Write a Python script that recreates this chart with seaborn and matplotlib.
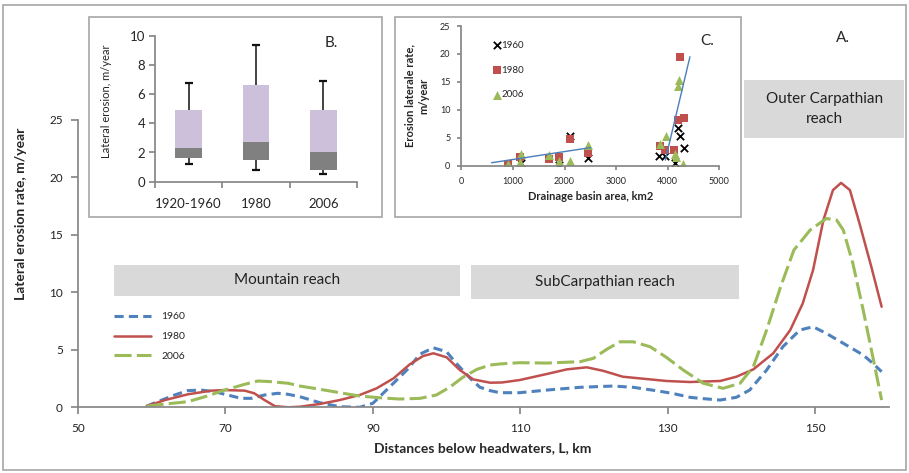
import matplotlib
matplotlib.use("Agg")
import matplotlib.pyplot as plt
from matplotlib.patches import Rectangle
import numpy as np
import seaborn as sns

# ---- main chart (A): lateral erosion rate along the river ----
km_1960 = [59.3, 63.1, 64.9, 66.7, 68.5, 70.3, 72.1, 73.5, 75.3, 77.1, 78.5, 80.1, 82.8, 85.5,
           88.2, 90.0, 92.3, 94.6, 96.4, 98.2, 100.0, 101.3, 103.2, 104.5, 105.9, 107.2, 109.9,
           113.6, 118.1, 122.6, 125.3, 128.5, 130.7, 133.0, 134.3, 137.1, 139.3, 141.1, 143.4,
           145.6, 147.9, 149.7, 151.5, 153.8, 156.5, 157.8, 159.0]
rate_1960 = [0.1, 1.07, 1.45, 1.5, 1.36, 1.07, 0.78, 0.78, 1.07, 1.22, 1.13, 0.92, 0.4, 0.05,
             0.0, 0.35, 1.79, 3.24, 4.63, 5.18, 4.83, 3.83, 2.52, 1.75, 1.45, 1.27, 1.27,
             1.5, 1.74, 1.85, 1.74, 1.44, 1.2, 0.87, 0.78, 0.63, 0.87, 1.5, 3.24,
             5.27, 6.72, 7.01, 6.43, 5.57, 4.55, 3.83, 3.1]

km_1980 = [59.3, 61.8, 64.9, 68.1, 69.9, 72.6, 73.9, 75.3, 76.7, 78.5, 80.1, 82.8, 85.5, 88.2,
           90.5, 92.8, 95.0, 96.8, 98.2, 100.0, 101.8, 103.6, 105.9, 107.5, 109.9, 113.6, 116.3,
           119.0, 121.2, 123.9, 127.1, 129.8, 133.0, 134.3, 137.1, 139.3, 141.6, 144.3, 146.6,
           148.3, 149.7, 151.1, 152.4, 153.5, 154.7, 156.0, 157.6, 159.0]
rate_1980 = [0.1, 0.63, 1.13, 1.45, 1.5, 1.45, 1.22, 0.63, 0.1, 0.0, 0.05, 0.29, 0.63, 1.07,
             1.65, 2.52, 3.74, 4.46, 4.70, 4.35, 3.24, 2.43, 2.14, 2.16, 2.37, 2.9, 3.3,
             3.48, 3.18, 2.66, 2.46, 2.29, 2.2, 2.23, 2.29, 2.66, 3.3, 4.7, 6.72,
             9.04, 11.94, 16.29, 18.9, 19.53, 18.9, 16.0, 12.23, 8.75]

km_2006 = [59.3, 61.8, 64.9, 67.2, 69.9, 72.6, 74.4, 76.2, 78.5, 80.1, 82.8, 85.5, 88.2, 90.9,
           93.6, 96.4, 98.6, 100.4, 102.2, 104.1, 105.9, 107.2, 109.9, 113.6, 118.1, 119.9,
           121.7, 123.5, 125.3, 127.6, 129.8, 132.1, 134.8, 137.5, 139.8, 141.6, 143.4, 145.3,
           147.1, 149.3, 151.5, 152.9, 153.8, 155.1, 156.5, 157.8, 159.0]
rate_2006 = [0.1, 0.28, 0.49, 0.92, 1.5, 2.0, 2.29, 2.23, 2.09, 1.85, 1.57, 1.27, 0.98, 0.83,
             0.72, 0.78, 1.07, 1.74, 2.61, 3.30, 3.68, 3.77, 3.88, 3.85, 3.97, 4.26,
             5.04, 5.70, 5.70, 5.27, 4.35, 3.24, 2.09, 1.65, 2.09, 3.53, 6.72, 10.49,
             13.68, 15.42, 16.43, 16.29, 15.42, 12.52, 8.46, 4.4, 0.63]

reach_names = ["Mountain reach", "SubCarpathian reach", "Outer Carpathian\nreach"]
reach_start = [54.9, 103.3, 140.4]
reach_end = [101.8, 139.7, 162.0]

# ---- inset B: box plots ----
periods = ["1920-1960", "1980", "2006"]
whisk_low = [1.23, 0.78, 0.53]
q1 = [1.62, 1.46, 0.78]
median = [2.31, 2.72, 2.05]
q3 = [4.91, 6.60, 4.91]
whisk_high = [6.78, 9.38, 6.90]

# ---- inset C: erosion vs drainage area ----
area_1960 = [1150, 1890, 2100, 2460, 3840, 3960, 4150, 4200, 4240, 4330]
erosion_1960 = [0.4, 0.1, 5.3, 1.4, 1.7, 1.7, 0.5, 6.8, 5.3, 3.1]
area_1980 = [910, 1130, 1690, 1890, 2100, 2460, 3850, 3960, 4130, 4200, 4240, 4330]
erosion_1980 = [0.3, 1.5, 1.2, 1.5, 4.7, 2.2, 3.5, 2.8, 2.8, 8.2, 19.5, 8.6]
area_2006 = [910, 1130, 1150, 1690, 1890, 2100, 2460, 3860, 3980, 4150, 4170, 4200, 4230, 4310]
erosion_2006 = [0.3, 0.6, 2.1, 1.9, 0.9, 0.9, 3.7, 3.8, 5.4, 2.1, 1.5, 14.2, 15.4, 0.3]
trend1_area = [584, 2506]
trend1_rate = [0.53, 3.24]
trend2_area = [3958, 4436]
trend2_rate = [1.0, 19.5]

BLUE, RED, GREEN = "#4F81BD", "#C0504D", "#9BBB59"
AXIS_GRAY = "#868686"

sns.set_theme(style="white")
plt.rcParams["font.family"] = ["Lato", "DejaVu Sans"]

W, H = 909, 473
fig = plt.figure(figsize=(W / 100, H / 100), dpi=100)


def px_box(x0, y0, x1, y1):
    # pixel box (top-left origin) -> figure fraction rect
    return [x0 / W, 1 - y1 / H, (x1 - x0) / W, (y1 - y0) / H]


# outer border
fig.add_artist(Rectangle((3 / W, 3 / H), 903 / W, 465 / H, transform=fig.transFigure,
                         fill=False, ec="#A6A6A6", lw=1.2))

# ---------------- main axes ----------------
ax = fig.add_axes(px_box(78, 120, 889, 407.3))
sns.lineplot(x=km_1960, y=rate_1960, ax=ax, color=BLUE, lw=2.2,
             linestyle=(0, (3.0, 1.7)), label="1960")
sns.lineplot(x=km_1980, y=rate_1980, ax=ax, color=RED, lw=1.8, label="1980")
sns.lineplot(x=km_2006, y=rate_2006, ax=ax, color=GREEN, lw=2.2,
             linestyle=(0, (5.6, 1.7)), label="2006")

ax.set_xlim(50, 160)
ax.set_ylim(0, 25)
ax.set_xticks(range(50, 151, 20))
ax.set_yticks(range(0, 26, 5))
sns.despine(ax=ax)
for s in ["left", "bottom"]:
    ax.spines[s].set_color(AXIS_GRAY)
ax.tick_params(bottom=True, left=True, direction="out", length=5, color=AXIS_GRAY,
               labelsize=8.5, pad=6, labelcolor="#222222")
ax.set_xlabel("Distances below headwaters, L, km", fontsize=10, fontweight="bold")
ax.set_ylabel("Lateral erosion rate, m/year", fontsize=10, fontweight="bold")
ax.xaxis.set_label_coords(0.499, -0.12)
ax.yaxis.set_label_coords(-0.063, 0.675)

ax.legend(loc="upper left", bbox_to_anchor=(0.044, 0.331), frameon=False, fontsize=7.5,
          handlelength=3.6, handletextpad=1.0, labelspacing=1.0, borderpad=0,
          borderaxespad=0)

box_bottom = [9.7, 9.4, 23.4]
box_top = [12.4, 12.4, 28.5]
for name, a, b, lo, hi in zip(reach_names, reach_start, reach_end, box_bottom, box_top):
    ax.add_patch(Rectangle((a, lo), b - a, hi - lo, fc="#D9D9D9", ec="none",
                           clip_on=False, zorder=0.5))
    ax.text((a + b) / 2, (lo + hi) / 2, name, ha="center", va="center", fontsize=11,
            linespacing=1.5, color="#222222")

fig.text(843 / W, 1 - 38 / H, "A.", ha="center", va="center", fontsize=11)

# ---------------- inset B ----------------
fig.add_artist(Rectangle((88.7 / W, 1 - 216.7 / H), 293 / W, 199.4 / H,
                         transform=fig.transFigure, fc="white", ec="#A6A6A6", lw=1.2,
                         zorder=1))
axB = fig.add_axes(px_box(155, 35.7, 357, 181.7))
axB.set_zorder(2)
axB.patch.set_alpha(0)
sns.barplot(x=periods, y=q3, color="#CCC0DA", saturation=1, width=0.4, ax=axB, lw=0)
sns.barplot(x=periods, y=median, color="#808080", saturation=1, width=0.4, ax=axB, lw=0)
sns.barplot(x=periods, y=q1, color="white", saturation=1, width=0.4, ax=axB, lw=0)
pos = np.arange(len(periods))
axB.vlines(pos, q3, whisk_high, color="#111111", lw=1.1)
axB.vlines(pos, whisk_low, q1, color="#111111", lw=1.1)
axB.hlines(whisk_high, pos - 0.06, pos + 0.06, color="#111111", lw=1.6)
axB.hlines(whisk_low, pos - 0.06, pos + 0.06, color="#111111", lw=1.6)
axB.set_xlim(-0.5, 2.5)
axB.set_ylim(0, 10)
axB.set_yticks(range(0, 11, 2))
axB.set_xticks([-0.5, 0.5, 1.5, 2.5], labels=["", "", "", ""])
axB.set_xticks(pos, labels=periods, minor=True)
sns.despine(ax=axB)
for s in ["left", "bottom"]:
    axB.spines[s].set_color(AXIS_GRAY)
axB.tick_params(which="major", bottom=True, left=True, direction="out", length=4,
                color=AXIS_GRAY, labelsize=9.5, pad=3)
axB.tick_params(axis="x", which="minor", bottom=True, length=0, labelsize=9.5, pad=12)
axB.set_xlabel("")
axB.set_ylabel("Lateral erosion, m/year", fontsize=8)
axB.yaxis.set_label_coords(-0.215, 0.55)
fig.text(331.7 / W, 1 - 42.7 / H, "B.", ha="center", va="center", fontsize=11)

# ---------------- inset C ----------------
fig.add_artist(Rectangle((395 / W, 1 - 216.7 / H), 346 / W, 199.4 / H,
                         transform=fig.transFigure, fc="white", ec="#A6A6A6", lw=1.2,
                         zorder=1))
axC = fig.add_axes(px_box(461.5, 26, 719, 165.7))
axC.set_zorder(2)
axC.patch.set_alpha(0)
sns.scatterplot(x=area_1960, y=erosion_1960, ax=axC, marker="x", color="black", s=28,
                linewidth=1.3, label="1960")
sns.scatterplot(x=area_1980, y=erosion_1980, ax=axC, marker="s", color=RED, s=36,
                linewidth=0, label="1980")
sns.scatterplot(x=area_2006, y=erosion_2006, ax=axC, marker="^", color=GREEN, s=42,
                linewidth=0, label="2006")
sns.lineplot(x=trend1_area, y=trend1_rate, ax=axC, color="#4A7EBB", lw=1)
sns.lineplot(x=trend2_area, y=trend2_rate, ax=axC, color="#4A7EBB", lw=1)
axC.set_xlim(0, 5000)
axC.set_ylim(0, 25)
axC.set_xticks(range(0, 5001, 1000))
axC.set_yticks(range(0, 26, 5))
sns.despine(ax=axC)
for s in ["left", "bottom"]:
    axC.spines[s].set_color(AXIS_GRAY)
axC.tick_params(bottom=True, left=True, direction="out", length=3, color=AXIS_GRAY,
                labelsize=6.5, pad=5)
axC.set_xlabel("Drainage basin area, km2", fontsize=8, fontweight="bold")
axC.set_ylabel("Erosion laterale rate,\nm/year", fontsize=8, fontweight="bold",
               linespacing=1.3)
axC.yaxis.set_label_coords(-0.125, 0.5)
axC.legend(loc="upper left", bbox_to_anchor=(0.122, 0.893), frameon=False, fontsize=7,
           handlelength=0.8, handletextpad=0.1, labelspacing=1.6, borderpad=0,
           borderaxespad=0)
fig.text(707 / W, 1 - 41 / H, "C.", ha="center", va="center", fontsize=11)

fig.savefig("out.png", dpi=100)
